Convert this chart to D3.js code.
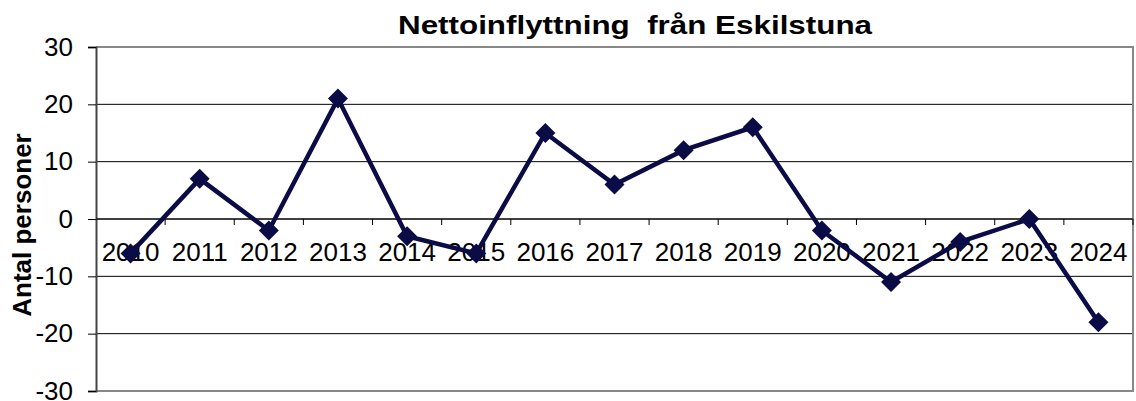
<!DOCTYPE html>
<html>
<head>
<meta charset="utf-8">
<script src="https://cdn.jsdelivr.net/npm/d3@7"></script>
<style>
  html, body { margin: 0; padding: 0; background: #fff; }
  svg { display: block; font-family: "Liberation Sans", Arial, sans-serif; }
</style>
</head>
<body>
<svg id="chart" width="1136" height="401"></svg>
<script>
const years = ["2010","2011","2012","2013","2014","2015","2016","2017","2018","2019","2020","2021","2022","2023","2024"];
const values = [-6, 7, -2, 21, -3, -6, 15, 6, 12, 16, -2, -11, -4, 0, -18];
const yTicks = [-30, -20, -10, 0, 10, 20, 30];
const titleText = "Nettoinflyttning  från Eskilstuna";
const yLabel = "Antal personer";

const svg = d3.select("#chart");
const plot = { left: 96, right: 1133, top: 47, bottom: 391 };

const x = d3.scaleBand().domain(years).range([plot.left, plot.right]);
const y = d3.scaleLinear().domain([-30, 30]).range([plot.bottom, plot.top]);

// horizontal gridlines
svg.append("g").selectAll("line")
  .data(yTicks.filter(t => t !== -30 && t !== 30))
  .join("line")
  .attr("x1", plot.left).attr("x2", plot.right)
  .attr("y1", d => y(d)).attr("y2", d => y(d))
  .attr("stroke", "#000").attr("stroke-width", 1);

// plot frame (top, right, bottom)
svg.append("path")
  .attr("d", `M${plot.left},${plot.top}H${plot.right}V${plot.bottom}H${plot.left}`)
  .attr("fill", "none").attr("stroke", "#888").attr("stroke-width", 2);

// y axis, plain hyphen for negative numbers
const yAxis = svg.append("g")
  .attr("transform", `translate(${plot.left},0)`)
  .call(d3.axisLeft(y).tickValues(yTicks).tickSize(8).tickPadding(15).tickFormat(d => String(d)));
yAxis.select(".domain").attr("stroke", "#444").attr("stroke-width", 2);
yAxis.selectAll(".tick line").attr("stroke", "#000");
yAxis.selectAll(".tick text")
  .attr("font-size", 26).attr("fill", "#000")
  .attr("font-family", "Liberation Sans, Arial, sans-serif");

// x axis crossing at zero, ticks between categories
const xAxis = svg.append("g")
  .attr("transform", `translate(0,${y(0)})`);
xAxis.append("line")
  .attr("x1", plot.left).attr("x2", plot.right)
  .attr("stroke", "#000").attr("stroke-width", 1);
xAxis.selectAll("line.tk")
  .data(years.slice(1))
  .join("line").attr("class", "tk")
  .attr("x1", d => x(d)).attr("x2", d => x(d))
  .attr("y1", 0).attr("y2", 6)
  .attr("stroke", "#000");
xAxis.append("line")
  .attr("x1", plot.right).attr("x2", plot.right)
  .attr("y1", 0).attr("y2", 6).attr("stroke", "#000");
xAxis.selectAll("text")
  .data(years)
  .join("text")
  .attr("x", d => x(d) + x.bandwidth() / 2)
  .attr("y", 42)
  .attr("text-anchor", "middle")
  .attr("font-size", 26)
  .attr("fill", "#000")
  .text(d => d);

// series line
const line = d3.line()
  .x((d, i) => x(years[i]) + x.bandwidth() / 2)
  .y(d => y(d));
svg.append("path")
  .datum(values)
  .attr("d", line)
  .attr("fill", "none")
  .attr("stroke", "#0b0b45")
  .attr("stroke-width", 4.5)
  .attr("stroke-linejoin", "miter");

// diamond markers
svg.append("g").selectAll("path")
  .data(values)
  .join("path")
  .attr("transform", (d, i) => `translate(${x(years[i]) + x.bandwidth() / 2},${y(d)})`)
  .attr("d", "M0,-10L10,0L0,10L-10,0Z")
  .attr("fill", "#0b0b45");

// title
svg.append("text")
  .attr("x", 635).attr("y", 34)
  .attr("text-anchor", "middle")
  .attr("font-size", 25).attr("font-weight", "bold")
  .attr("xml:space", "preserve")
  .attr("textLength", 474)
  .attr("lengthAdjust", "spacingAndGlyphs")
  .style("white-space", "pre")
  .text(titleText);

// y label
svg.append("text")
  .attr("transform", `translate(31,${225}) rotate(-90)`)
  .attr("text-anchor", "middle")
  .attr("font-size", 26).attr("font-weight", "bold")
  .text(yLabel);
</script>
</body>
</html>
